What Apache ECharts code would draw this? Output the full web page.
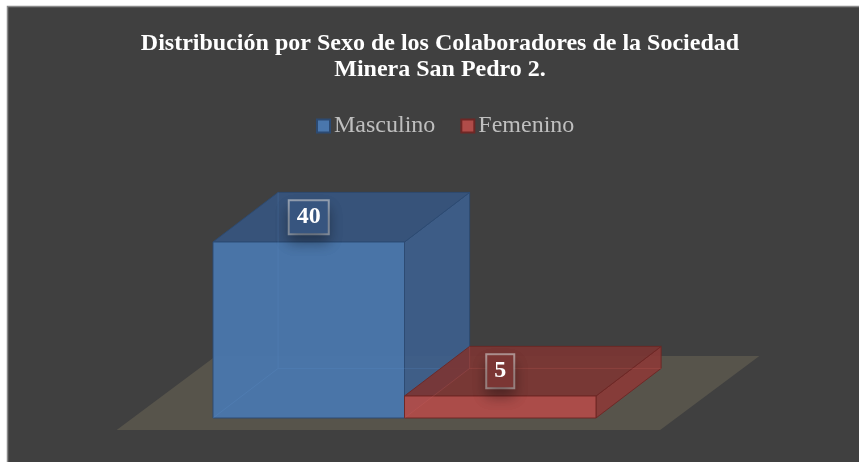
<!DOCTYPE html>
<html>
<head>
<meta charset="utf-8">
<title>Distribución por Sexo</title>
<script src="https://cdn.jsdelivr.net/npm/echarts@6/dist/echarts.min.js"></script>
<style>
html,body{margin:0;padding:0;background:#fff;}
#grafico{width:859px;height:462px;}
</style>
</head>
<body>
<div id="grafico"></div>
<script>
// datos
var categorias = ['Masculino', 'Femenino'];
var valores = [40, 5];

// colores de cada caja (frente, arriba, lado, borde)
var paleta = [
	{frente:'#4a77ad', arriba:'#37557f', lado:'#3d5f8c', borde:'#2c4a72', oculto:'rgba(95,145,205,0.22)'},
	{frente:'#b04c49', arriba:'#7b3634', lado:'#8a3a38', borde:'#6e2725', oculto:'rgba(210,100,95,0.22)'}
];
var PROF_X = 0.34, PROF_Y = 0.259;//profundidad de la caja respecto al ancho
var FUENTE = '"Liberation Serif", "Times New Roman", serif';

// caja 3d
function cajaItem(i){
	return function(params, api){
		var cat = api.value(0);
		var v = api.value(1);
		var base = api.coord([cat, 0]);
		var tope = api.coord([cat, v]);
		var ancho = api.size([1, 0])[0];
		var dx = ancho*PROF_X, dy = -ancho*PROF_Y;
		var x0 = base[0]-ancho/2, x1 = base[0]+ancho/2, y0 = base[1], y1 = tope[1];
		var c = paleta[i];
		var hijos = [];
		//lado derecho
		hijos.push({type:'polygon', shape:{points:[[x1,y1],[x1+dx,y1+dy],[x1+dx,y0+dy],[x1,y0]]},
			style:{fill:c.lado, stroke:c.borde, lineWidth:1, opacity:0.93}});
		//arriba
		hijos.push({type:'polygon', shape:{points:[[x0,y1],[x1,y1],[x1+dx,y1+dy],[x0+dx,y1+dy]]},
			style:{fill:c.arriba, stroke:c.borde, lineWidth:1, opacity:0.93}});
		//frente
		hijos.push({type:'rect', shape:{x:x0, y:y1, width:x1-x0, height:y0-y1},
			style:{fill:c.frente, stroke:c.borde, lineWidth:1, opacity:0.95}});
		//aristas ocultas
		hijos.push({type:'polyline', shape:{points:[[x0,y0],[x0+dx,y0+dy],[x1+dx,y0+dy]]},
			style:{stroke:c.oculto, lineWidth:1, fill:null}});
		hijos.push({type:'line', shape:{x1:x0+dx, y1:y0+dy, x2:x0+dx, y2:y1+dy},
			style:{stroke:c.oculto, lineWidth:1}});
		//etiqueta
		hijos.push({type:'text', x:base[0], y:y1+dy/2, z2:10,
			style:{
				text:String(v), fill:'#ffffff', font:'bold 24px '+FUENTE,
				align:'center', verticalAlign:'middle',
				padding:[5,7,3,7],
				backgroundColor:c.arriba,
				borderColor:'rgba(225,225,225,0.55)', borderWidth:2,
				shadowColor:'rgba(0,0,0,0.35)', shadowBlur:14, shadowOffsetY:8
			}});
		return {type:'group', children:hijos};
	};
}

// piso
function pisoItem(params, api){
	var sis = params.coordSys;
	var ancho = sis.width/categorias.length;
	var margen = ancho*0.419;
	var yb = sis.y+sis.height;
	var fx = ancho*0.084, fy = ancho*0.063;
	var px = ancho*0.518, py = ancho*0.387;
	var izq = sis.x-margen-fx, der = sis.x+sis.width+margen-fx, yf = yb+fy;
	return {type:'polygon', shape:{points:[[izq,yf],[der,yf],[der+px,yf-py],[izq+px,yf-py]]},
		style:{fill:'#57544b'}};
}

var series = [{
	name:'piso', type:'custom', renderItem:pisoItem, data:[[0,0]], silent:true
}];
for(var i=0;i<categorias.length;i++){
	series.push({
		name:categorias[i], type:'custom', renderItem:cajaItem(i),
		itemStyle:{color:paleta[i].frente, borderColor:paleta[i].borde, borderWidth:1.5},
		encode:{x:0, y:1},
		data:[[i, valores[i]]]
	});
}

var myChart = echarts.init(document.getElementById('grafico'), null, {renderer:'canvas'});
myChart.setOption({
	animation:false,
	backgroundColor:'#ffffff',
	graphic:[{
		type:'rect', z:-10,
		shape:{x:7.5, y:6.5, width:900, height:500},
		style:{fill:'#404040', stroke:'#8a8a8a', lineWidth:1.5}
	}],
	title:{
		text:'Distribución por Sexo de los Colaboradores de la Sociedad\nMinera San Pedro 2.',
		left:440, top:31, textAlign:'center', padding:0,
		textStyle:{color:'#ffffff', fontSize:24, fontWeight:'bold', fontFamily:FUENTE, lineHeight:26}
	},
	legend:{
		data:categorias, left:316, top:114, padding:0,
		icon:'rect', itemWidth:13, itemHeight:13, itemGap:25,
		textStyle:{color:'#bfbfbf', fontSize:24, fontFamily:FUENTE, padding:[0,0,0,-1]}
	},
	grid:{left:213, right:263, top:198, bottom:44},
	xAxis:{type:'category', data:categorias, show:false},
	yAxis:{type:'value', min:0, max:50, show:false},
	series:series
});
</script>
</body>
</html>
